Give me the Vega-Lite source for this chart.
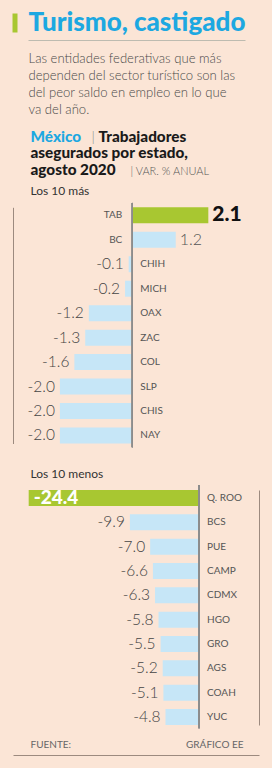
{
  "$schema": "https://vega.github.io/schema/vega-lite/v6.json",
  "width": 246,
  "height": 742,
  "autosize": "none",
  "padding": {"left": 13, "top": 13, "right": 13, "bottom": 13},
  "background": "#FBE5D6",
  "config": {
    "view": {"stroke": null},
    "font": "Lato",
    "locale": {"number": {"decimal": ".", "thousands": ",", "grouping": [3], "currency": ["$", ""], "minus": "-"}},
    "axis": {
      "domain": false, "ticks": false, "labels": false, "grid": false,
      "titleAngle": 0, "titleAlign": "left", "titleBaseline": "alphabetic",
      "titlePadding": 0, "titleFont": "Lato", "titleFontWeight": "normal", "titleLimit": 0
    }
  },
  "datasets": {
    "mas": [
      {"estado": "TAB", "valor": 2.1},
      {"estado": "BC", "valor": 1.2},
      {"estado": "CHIH", "valor": -0.1},
      {"estado": "MICH", "valor": -0.2},
      {"estado": "OAX", "valor": -1.2},
      {"estado": "ZAC", "valor": -1.3},
      {"estado": "COL", "valor": -1.6},
      {"estado": "SLP", "valor": -2.0},
      {"estado": "CHIS", "valor": -2.0},
      {"estado": "NAY", "valor": -2.0}
    ],
    "menos": [
      {"estado": "Q. ROO", "valor": -24.4},
      {"estado": "BCS", "valor": -9.9},
      {"estado": "PUE", "valor": -7.0},
      {"estado": "CAMP", "valor": -6.6},
      {"estado": "CDMX", "valor": -6.3},
      {"estado": "HGO", "valor": -5.8},
      {"estado": "GRO", "valor": -5.5},
      {"estado": "AGS", "valor": -5.2},
      {"estado": "COAH", "valor": -5.1},
      {"estado": "YUC", "valor": -4.8}
    ]
  },
  "layer": [
    {
      "data": {"name": "mas"},
      "resolve": {"axis": {"x": "independent", "y": "independent"}},
      "layer": [
        {
          "mark": {"type": "bar"},
          "encoding": {
            "y": {"field": "estado", "type": "nominal",
              "scale": {"type": "band", "domain": ["TAB","BC","CHIH","MICH","OAX","ZAC","COL","SLP","CHIS","NAY"], "range": [194.3, 430.5], "paddingInner": 0.346, "paddingOuter": 0, "round": false},
              "axis": {"orient": "left", "domain": true, "domainColor": "#9C8A7F", "domainWidth": 1,
                "title": "Los 10 más", "titleX": 17, "titleY": 181, "titleFontSize": 12, "titleColor": "#333333"}},
            "x": {"field": "valor", "type": "quantitative",
              "scale": {"domain": [-3.2956, 3.5], "nice": false, "zero": false},
              "axis": {"orient": "top", "offset": -27, "domain": true, "domainColor": "#BDBBB0", "domainWidth": 1, "domainDash": [0, 15, 217, 100],
                "title": "Turismo, castigado", "titleX": 15, "titleY": -9.5,
                "titleFontSize": 26, "titleFontWeight": 900, "titleColor": "#1DA8E1"}},
            "x2": {"datum": 0},
            "color": {"condition": {"test": "datum.estado === 'TAB'", "value": "#A8C731"}, "value": "#C6E6F7"}
          }
        },
        {
          "transform": [{"filter": "datum.estado === 'TAB'"}],
          "mark": {"type": "text", "align": "left", "baseline": "middle", "dx": 4, "fontSize": 21, "fontWeight": 900, "color": "#111111"},
          "encoding": {
            "y": {"field": "estado", "type": "nominal",
              "axis": {"orient": "left", "title": "México", "titleX": 17, "titleY": 128,
                "titleFontSize": 15.3, "titleFontWeight": 900, "titleColor": "#1DA8E1"}},
            "x": {"field": "valor", "type": "quantitative",
              "axis": {"orient": "top", "title": ["Las entidades federativas que más", "dependen del sector turístico son las", "del peor saldo en empleo en lo que", "va del año."],
                "titleX": 15, "titleY": 49, "titleLineHeight": 17.3, "titleFontSize": 13.1, "titleFontWeight": 300, "titleColor": "#4A4A4A"}},
            "text": {"field": "valor", "type": "quantitative", "format": ".1f"}
          }
        },
        {
          "transform": [{"filter": "datum.valor > 0 && datum.estado !== 'TAB'"}],
          "mark": {"type": "text", "align": "left", "baseline": "middle", "dx": 4, "fontSize": 16, "fontWeight": 300, "color": "#555555"},
          "encoding": {
            "y": {"field": "estado", "type": "nominal",
              "axis": {"orient": "left", "title": "Trabajadores", "titleX": 85, "titleY": 128,
                "titleFontSize": 15.3, "titleFontWeight": 900, "titleColor": "#1A1A1A"}},
            "x": {"field": "valor", "type": "quantitative",
              "axis": {"orient": "top", "offset": -19, "ticks": true, "values": [-3.254], "tickSize": 19, "tickWidth": 5, "tickColor": "#A8C731", "tickRound": false,
                "title": "|", "titleX": 78, "titleY": 109,
                "titleFontSize": 14, "titleFontWeight": 300, "titleColor": "#888888"}},
            "text": {"field": "valor", "type": "quantitative", "format": ".1f"}
          }
        },
        {
          "transform": [{"filter": "datum.valor < 0"}],
          "mark": {"type": "text", "align": "right", "baseline": "middle", "dx": -5, "fontSize": 15.5, "fontWeight": 300, "color": "#444444"},
          "encoding": {
            "y": {"field": "estado", "type": "nominal",
              "axis": {"orient": "left", "title": "| VAR. % ANUAL", "titleX": 117, "titleY": 161.5,
                "titleFontSize": 11, "titleFontWeight": 300, "titleColor": "#555555"}},
            "x": {"field": "valor", "type": "quantitative",
              "axis": {"orient": "top", "title": ["asegurados por estado,", "agosto 2020"], "titleX": 17, "titleY": 144.5, "titleLineHeight": 17,
                "titleFontSize": 15.3, "titleFontWeight": 900, "titleColor": "#1A1A1A"}},
            "text": {"field": "valor", "type": "quantitative", "format": ".1f"}
          }
        },
        {
          "transform": [{"filter": "datum.valor > 0"}],
          "mark": {"type": "text", "align": "right", "baseline": "middle", "dx": -10, "fontSize": 10, "color": "#555555"},
          "encoding": {
            "y": {"field": "estado", "type": "nominal", "axis": null},
            "x": {"datum": 0, "axis": null},
            "text": {"field": "estado", "type": "nominal"}
          }
        },
        {
          "transform": [{"filter": "datum.valor < 0"}],
          "mark": {"type": "text", "align": "left", "baseline": "middle", "dx": 8, "fontSize": 10, "color": "#555555"},
          "encoding": {
            "y": {"field": "estado", "type": "nominal", "axis": null},
            "x": {"datum": 0, "axis": null},
            "text": {"field": "estado", "type": "nominal"}
          }
        },
        {
          "mark": {"type": "rule", "color": "#8C8C8C", "strokeWidth": 1},
          "encoding": {
            "x": {"datum": 0, "axis": null},
            "y": {"datum": "TAB", "type": "nominal", "bandPosition": -0.27, "axis": null},
            "y2": {"datum": "NAY", "bandPosition": 1.23}
          }
        }
      ]
    },
    {
      "data": {"name": "menos"},
      "resolve": {"axis": {"x": "independent", "y": "independent"}},
      "layer": [
        {
          "mark": {"type": "bar"},
          "encoding": {
            "y": {"field": "estado", "type": "nominal",
              "scale": {"type": "band", "domain": ["Q. ROO","BCS","PUE","CAMP","CDMX","HGO","GRO","AGS","COAH","YUC"], "range": [477, 712], "paddingInner": 0.342, "paddingOuter": 0, "round": false},
              "axis": {"orient": "right", "domain": true, "domainColor": "#9C8A7F", "domainWidth": 1,
                "title": "Los 10 menos", "titleX": -229, "titleY": 464, "titleFontSize": 12, "titleColor": "#333333"}},
            "x": {"field": "valor", "type": "quantitative",
              "scale": {"domain": [-26.648, 8.596], "nice": false, "zero": false},
              "axis": {"orient": "bottom", "domain": true, "domainColor": "#9C8A7F", "domainWidth": 1,
                "title": "FUENTE:", "titleX": 17, "titleY": -7.5, "titleFontSize": 10, "titleColor": "#666666"}},
            "x2": {"datum": 0},
            "color": {"condition": {"test": "datum.estado === 'Q. ROO'", "value": "#A8C731"}, "value": "#C6E6F7"}
          }
        },
        {
          "transform": [{"filter": "datum.estado === 'Q. ROO'"}],
          "mark": {"type": "text", "align": "left", "baseline": "middle", "dx": 5, "fontSize": 19, "fontWeight": 900, "color": "#FFFFFF"},
          "encoding": {
            "y": {"field": "estado", "type": "nominal", "axis": null},
            "x": {"field": "valor", "type": "quantitative",
              "axis": {"orient": "bottom", "title": "GRÁFICO EE", "titleAlign": "right", "titleX": 230, "titleY": -7.5,
                "titleFontSize": 10, "titleColor": "#666666"}},
            "text": {"field": "valor", "type": "quantitative", "format": ".1f"}
          }
        },
        {
          "transform": [{"filter": "datum.estado !== 'Q. ROO'"}],
          "mark": {"type": "text", "align": "right", "baseline": "middle", "dx": -5, "fontSize": 15.5, "fontWeight": 300, "color": "#444444"},
          "encoding": {
            "y": {"field": "estado", "type": "nominal", "axis": null},
            "x": {"field": "valor", "type": "quantitative", "axis": null},
            "text": {"field": "valor", "type": "quantitative", "format": ".1f"}
          }
        },
        {
          "mark": {"type": "text", "align": "left", "baseline": "middle", "dx": 8, "fontSize": 10, "color": "#555555"},
          "encoding": {
            "y": {"field": "estado", "type": "nominal", "axis": null},
            "x": {"datum": 0, "axis": null},
            "text": {"field": "estado", "type": "nominal"}
          }
        },
        {
          "mark": {"type": "rule", "color": "#8C8C8C", "strokeWidth": 1},
          "encoding": {
            "x": {"datum": 0, "axis": null},
            "y": {"datum": "Q. ROO", "type": "nominal", "bandPosition": -0.3, "axis": null},
            "y2": {"datum": "YUC", "bandPosition": 1.2}
          }
        }
      ]
    }
  ],
  "resolve": {"scale": {"x": "independent", "y": "independent"}}
}
